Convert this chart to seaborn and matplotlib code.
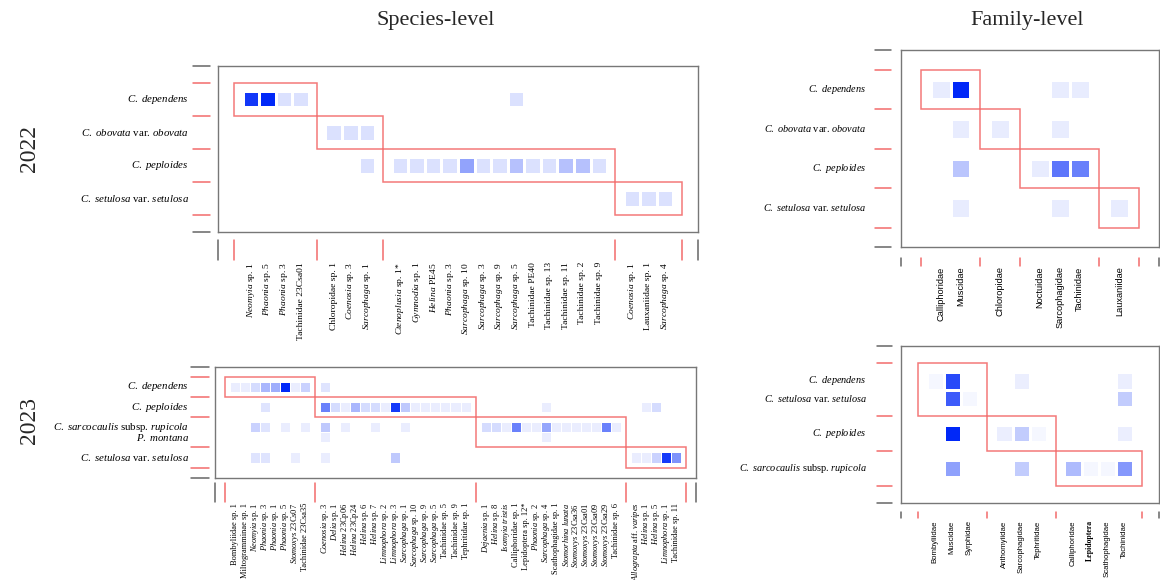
import numpy as np
import matplotlib
matplotlib.use("Agg")
import matplotlib.pyplot as plt
import seaborn as sns
from matplotlib.colors import LinearSegmentedColormap
from matplotlib.patches import Rectangle
from matplotlib import transforms

# ---------------- data ----------------
# Species-level 2022
s22_rows = ["_C. dependens_", "_C. obovata_ var. _obovata_", "_C. peploides_",
            "_C. setulosa_ var. _setulosa_"]
s22_row_sizes = [1, 1, 1, 1]
s22_cols = [
    ["_Neomyia_ sp. 1", "_Phaonia_ sp. 5", "_Phaonia_ sp. 3", "Tachinidae 23Csa01"],
    ["Chloropidae sp. 1", "_Coenosia_ sp. 3", "_Sarcophaga_ sp. 1"],
    ["_Ctenoplusia_ sp. 1*", "_Gymnodia_ sp. 1", "_Helina_ PE45", "_Phaonia_ sp. 3",
     "_Sarcophaga_ sp. 10", "_Sarcophaga_ sp. 3", "_Sarcophaga_ sp. 9", "_Sarcophaga_ sp. 5",
     "Tachinidae PE40", "Tachinidae sp. 13", "Tachinidae sp. 11", "Tachinidae sp. 2",
     "Tachinidae sp. 9"],
    ["_Coenosia_ sp. 1", "Lauxaniidae sp. 1", "_Sarcophaga_ sp. 4"],
]
s22_w = [
    [6.5, 7, 1, 1,  0, 0, 0,  0, 0, 0, 0, 0, 0, 0, 1, 0, 0, 0, 0, 0,  0, 0, 0],
    [0, 0, 0, 0,    1, 1, 1,  0, 0, 0, 0, 0, 0, 0, 0, 0, 0, 0, 0, 0,  0, 0, 0],
    [0, 0, 0, 0,    0, 0, 1,  1, 1, 1, 1, 3, 1, 1, 2, 1, 1, 2, 2, 1,  0, 0, 0],
    [0, 0, 0, 0,    0, 0, 0,  0, 0, 0, 0, 0, 0, 0, 0, 0, 0, 0, 0, 0,  1, 1, 1],
]
s22_vmax = 7

# Species-level 2023
s23_rows = ["_C. dependens_", "_C. peploides_", "_C. sarcocaulis_ subsp. _rupicola_",
            "_P. montana_", "_C. setulosa_ var. _setulosa_"]
s23_row_sizes = [1, 1, 2, 1]
s23_cols = [
    ["Bombyliidae sp. 1", "Miltogramminae sp. 1", "_Neomyia_ sp. 1", "_Phaonia_ sp. 3",
     "_Phaonia_ sp. 1", "_Phaonia_ sp. 5", "_Stomoxys_ 23Cs07", "Tachinidae 23Csa35"],
    ["_Coenosia_ sp. 3", "_Delia_ sp. 1", "_Helina_ 23Cp06", "_Helina_ 23Cp24", "_Helina_ sp. 6",
     "_Helina_ sp. 7", "_Limnophora_ sp. 2", "_Limnophora_ sp. 3", "_Sarcophaga_ sp. 1",
     "_Sarcophaga_ sp. 10", "_Sarcophaga_ sp. 9", "_Sarcophaga_ sp. 5", "Tachinidae sp. 5",
     "Tachinidae sp. 9", "Tephritidae sp. 1"],
    ["_Dejaenia_ sp. 1", "_Helina_ sp. 8", "_Isomyia tristis_", "Calliphoridae sp. 1",
     "Lepidoptera sp. 12*", "_Phaonia_ sp. 2", "_Sarcophaga_ sp. 4", "Scathophagidae sp. 1",
     "_Stomorhina lunata_", "_Stomoxys_ 23Csa36", "_Stomoxys_ 23Csa01", "_Stomoxys_ 23Csa09",
     "_Stomoxys_ 23Csa29", "Tachinidae sp. 6"],
    ["_Allograpta_ aff. _varipes_", "_Helina_ sp. 1", "_Helina_ sp. 5", "_Limnophora_ sp. 1",
     "Tachinidae sp. 11"],
]
s23_w = [
    [1, 1, 2, 4, 4.5, 12, 1, 2.5,
     1.5, 0, 0, 0, 0, 0, 0, 0, 0, 0, 0, 0, 0, 0, 0,
     0, 0, 0, 0, 0, 0, 0, 0, 0, 0, 0, 0, 0, 0,
     0, 0, 0, 0, 0],
    [0, 0, 0, 1.5, 0, 0, 0, 0,
     7, 2, 1, 4, 2, 2, 1, 11, 3, 1, 1, 1, 1, 1, 1,
     0, 0, 0, 0, 0, 0, 1, 0, 0, 0, 0, 0, 0, 0,
     0, 1, 2, 0, 0],
    [0, 0, 2.5, 1.5, 0, 1, 0, 1,
     3, 0, 1, 0, 0, 1, 0, 0, 1, 0, 0, 0, 0, 0, 0,
     2, 2, 1, 7, 1, 1, 5, 1, 1, 1, 1, 1, 7, 1,
     0, 0, 0, 0, 0],
    [0, 0, 0, 0, 0, 0, 0, 0,
     1, 0, 0, 0, 0, 0, 0, 0, 0, 0, 0, 0, 0, 0, 0,
     0, 0, 0, 0, 0, 0, 1, 0, 0, 0, 0, 0, 0, 0,
     0, 0, 0, 0, 0],
    [0, 0, 1.5, 1.5, 0, 0, 1, 0,
     1, 0, 0, 0, 0, 0, 0, 3, 0, 0, 0, 0, 0, 0, 0,
     0, 0, 0, 0, 0, 0, 0, 0, 0, 0, 0, 0, 0, 0,
     1, 1, 2.5, 11, 6],
]
s23_vmax = 12

# Family-level 2022
f22_rows = ["_C. dependens_", "_C. obovata_ var. _obovata_", "_C. peploides_",
            "_C. setulosa_ var. _setulosa_"]
f22_row_sizes = [1, 1, 1, 1]
f22_cols = [["Calliphoridae", "Muscidae"], ["Chloropidae"],
            ["Noctuidae", "Sarcophagidae", "Tachinidae"], ["Lauxaniidae"]]
f22_w = [
    [1, 11, 0, 0, 1, 1, 0],
    [0, 1, 1, 0, 1, 0, 0],
    [0, 3, 0, 1, 7, 6.5, 0],
    [0, 1, 0, 0, 1, 0, 1],
]
f22_vmax = 11

# Family-level 2023
f23_rows = ["_C. dependens_", "_C. setulosa_ var. _setulosa_", "_C. peploides_",
            "_C. sarcocaulis_ subsp. _rupicola_"]
f23_row_sizes = [2, 1, 1]
f23_cols = [["Bombyliidae", "Muscidae", "Syrphidae"],
            ["Anthomyiidae", "Sarcophagidae", "Tephritidae"],
            ["Calliphoridae", "Lepidoptera", "Scathophagidae", "Tachinidae"]]
f23_w = [
    [1, 21, 0, 0, 2, 0, 0, 0, 0, 2],
    [0, 19, 1, 0, 0, 0, 0, 0, 0, 6],
    [0, 25, 0, 2, 6, 1, 0, 0, 0, 2],
    [0, 11, 0, 0, 6, 0, 8, 1, 1, 12],
]
f23_vmax = 25

# ---------------- style ----------------
sns.set_theme(style="white")
plt.rcParams["font.family"] = ["Liberation Serif", "DejaVu Serif"]
plt.rcParams["mathtext.fontset"] = "custom"
plt.rcParams["mathtext.rm"] = "Liberation Serif"
plt.rcParams["mathtext.it"] = "Liberation Serif:italic"
plt.rcParams["mathtext.bf"] = "Liberation Serif:bold"

W, H = 1160, 580
fig = plt.figure(figsize=(W / 100, H / 100), dpi=100)
fig.patch.set_facecolor("white")

cmap = LinearSegmentedColormap.from_list("wb", ["#ffffff", "#0028f8"])
RED = "#f26b6b"
GRAY = "#666666"


def fmt(s):
    parts = s.split("_")
    out = ""
    for i, p in enumerate(parts):
        if i % 2 == 1 and p:
            out += r"$\mathit{" + p.replace(" ", r"\ ") + "}$"
        else:
            out += p
    return out


def layout(sizes):
    pos, spacers, p = [], [0], 0
    for n in sizes:
        grp = []
        for _ in range(n):
            p += 1
            grp.append(p)
        pos.append(grp)
        p += 1
        spacers.append(p)
    return pos, spacers, p + 1


def panel(box, row_labels, row_sizes, col_groups, weights, vmax, cfg):
    x0, x1, y0, y1 = box
    aw, ah = x1 - x0, y1 - y0
    ax = fig.add_axes([x0 / W, 1 - y1 / H, aw / W, ah / H])
    col_labels = [c for g in col_groups for c in g]
    rpos, rsp, nr = layout(row_sizes)
    cpos, csp, nc = layout([len(g) for g in col_groups])
    rflat = [p for g in rpos for p in g]
    cflat = [p for g in cpos for p in g]
    w = np.array(weights, float)
    mat = np.full((nr, nc), np.nan)
    for i, rp in enumerate(rflat):
        for j, cp in enumerate(cflat):
            if w[i, j] > 0:
                mat[rp, cp] = w[i, j]
    sns.heatmap(mat, ax=ax, cmap=cmap, vmin=0, vmax=vmax, cbar=False,
                linewidths=cfg["lw"], linecolor="white")
    ax.set_xlim(-0.5, nc + 0.5)
    ax.set_ylim(nr + 0.5, -0.5)
    for s in ax.spines.values():
        s.set_visible(True)
        s.set_color("#777777")
        s.set_linewidth(1.0)

    # module boxes
    for k in range(len(row_sizes)):
        ax.add_patch(Rectangle((csp[k] + 0.5, rsp[k] + 0.5),
                               csp[k + 1] - csp[k], rsp[k + 1] - rsp[k],
                               fill=False, edgecolor=RED, lw=1.1, alpha=0.9, zorder=5))

    # tick labels
    ax.set_xticks([p + 0.5 for p in cflat])
    ax.set_xticklabels([fmt(c) for c in col_labels], rotation=90,
                       fontsize=cfg["xfs"], fontfamily=cfg["xfam"])
    ax.set_yticks([p + 0.5 for p in rflat])
    ax.set_yticklabels([fmt(r) for r in row_labels], rotation=0, fontsize=cfg["yfs"])
    ax.tick_params(axis="x", length=0, pad=cfg["xpad"] * 0.72, colors="black")
    ax.tick_params(axis="y", length=0, pad=cfg["ypad"] * 0.72, colors="black")
    for t in ax.get_xticklabels():
        if t.get_text() == "Lepidoptera":
            t.set_fontweight("bold")
            t.set_fontfamily("Liberation Serif")

    # external tick marks
    tl = transforms.blended_transform_factory(ax.transAxes, ax.transData)
    lx = [cfg["lt"][0] / aw, cfg["lt"][1] / aw]
    for s in rsp:
        ax.plot(lx, [s + 0.5] * 2, color=RED, lw=1.1, transform=tl, clip_on=False)
    for yy in (-0.5, nr + 0.5):
        ax.plot(lx, [yy] * 2, color=GRAY, lw=1.1, transform=tl, clip_on=False)
    tb = transforms.blended_transform_factory(ax.transData, ax.transAxes)
    by = [-cfg["bt"][0] / ah, -cfg["bt"][1] / ah]
    for s in csp:
        ax.plot([s + 0.5] * 2, by, color=RED, lw=1.1, transform=tb, clip_on=False)
    for xx in (-0.5, nc + 0.5):
        ax.plot([xx] * 2, by, color=GRAY, lw=1.1, transform=tb, clip_on=False)
    return ax


panel((217.7, 698.2, 66, 232), s22_rows, s22_row_sizes, s22_cols, s22_w, s22_vmax,
      dict(lw=1.0, xfs=6.8, yfs=7.8, xfam=["Liberation Serif"], xpad=30, ypad=29,
           lt=(-25, -8), bt=(8, 28)))
panel((215, 696, 366.7, 477.7), s23_rows, s23_row_sizes, s23_cols, s23_w, s23_vmax,
      dict(lw=0.7, xfs=6.0, yfs=7.8, xfam=["Liberation Serif"], xpad=25, ypad=26,
           lt=(-24, -6), bt=(5, 24)))
panel((901, 1159, 50, 247.3), f22_rows, f22_row_sizes, f22_cols, f22_w, f22_vmax,
      dict(lw=1.0, xfs=6.7, yfs=7.4, xfam=["Liberation Sans"], xpad=19, ypad=35,
           lt=(-26, -10), bt=(11, 19)))
panel((900.7, 1159, 346, 503.3), f23_rows, f23_row_sizes, f23_cols, f23_w, f23_vmax,
      dict(lw=1.0, xfs=5.6, yfs=7.4, xfam=["Liberation Sans"], xpad=17, ypad=34,
           lt=(-24, -9), bt=(9, 15)))

fig.text(436 / W, 1 - 20 / H, "Species-level", ha="center", va="center", fontsize=16)
fig.text(1027 / W, 1 - 20 / H, "Family-level", ha="center", va="center", fontsize=16)
fig.text(30 / W, 1 - 148 / H, "2022", ha="center", va="center", rotation=90, fontsize=17)
fig.text(30 / W, 1 - 420 / H, "2023", ha="center", va="center", rotation=90, fontsize=17)

fig.savefig("out.png", dpi=100, facecolor="white")
